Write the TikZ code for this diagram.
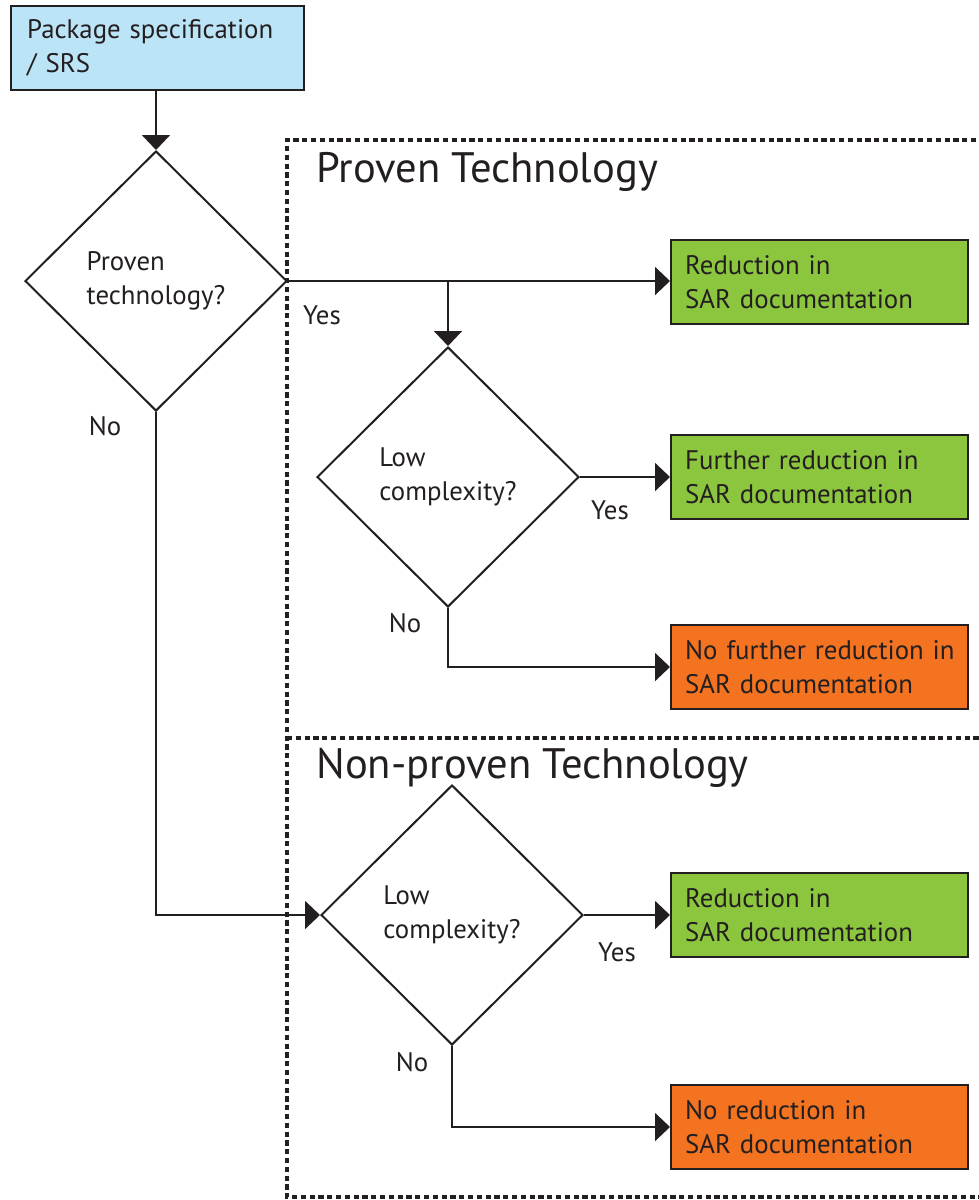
\documentclass[tikz,border=0pt]{standalone}
\usepackage{fontspec}
\setmainfont{PT Sans}
\usetikzlibrary{shapes.geometric, arrows.meta, positioning}
\definecolor{inkline}{HTML}{231F20}
\definecolor{specblue}{HTML}{BCE4F7}
\definecolor{okgreen}{HTML}{8CC63F}
\definecolor{noorange}{HTML}{F37321}
\newcommand{\bodyfont}{\fontsize{13.4}{17}\selectfont}
\newcommand{\zonefont}{\fontsize{21.3}{24}\selectfont}

\tikzset{
  box/.style = {draw=inkline, line width=1.2pt, rectangle, anchor=west,
    minimum width=148.5pt, minimum height=42pt, inner xsep=7pt,
    text width=134.5pt, align=left, font=\bodyfont, text=inkline},
  decision/.style = {draw=inkline, line width=1pt, diamond, fill=white,
    minimum width=131pt, minimum height=130pt, inner sep=0pt,
    align=left, font=\bodyfont, text=inkline},
  flow/.style = {draw=inkline, line width=1pt,
    -{Triangle[length=7.5pt, width=14pt]}},
  zone/.style = {draw=inkline, line width=1.6pt, dash pattern=on 2.6pt off 1.8pt},
  answer/.style = {font=\bodyfont, text=inkline, inner sep=0pt},
  zonetitle/.style = {font=\zonefont, text=inkline, anchor=base west, inner sep=0pt}
}

\begin{document}
\begin{tikzpicture}[x=0.5pt, y=-0.5pt]
    % Parameters
    \pgfmathsetmacro{\boxx}{670}
    \pgfmathsetmacro{\zonex}{287}
    \useasboundingbox (0,0) rectangle (979,1200);
    % Zones
    \draw[zone] (985,140) -- (\zonex,140) -- (\zonex,1197) -- (985,1197);
    \draw[zone] (\zonex,738) -- (985,738);
    \node[zonetitle] (provenzone) at (316,182) {Proven Technology};
    \node[zonetitle] (nonprovenzone) at (316,778) {Non-proven Technology};
    % Start
    \node[box, fill=specblue, minimum width=146.5pt, text width=130.5pt,
      inner xsep=8pt] (spec) at (10,48) {Package specification\\/ SRS};
    % Decisions
    \node[decision] (proven) at (156,281) {Proven\\technology?};
    \node[decision] (lowA) at (448,477) {Low\\complexity?};
    \node[decision] (lowB) at (452,915) {Low\\complexity?};
    % Outcomes
    \node[box, fill=okgreen] (redA) at (\boxx,282) {Reduction in\\SAR documentation};
    \node[box, fill=okgreen] (further) at (\boxx,477) {Further reduction in\\SAR documentation};
    \node[box, fill=noorange] (nofurther) at (\boxx,667) {No~further~reduction~in\\SAR documentation};
    \node[box, fill=okgreen] (redB) at (\boxx,915) {Reduction in\\SAR documentation};
    \node[box, fill=noorange] (noredB) at (\boxx,1127) {No reduction in\\SAR documentation};
    % Connectors
    \coordinate (split) at (lowA.north |- proven.east);
    \draw[flow] (spec.south -| proven.north) -- (proven.north);
    \draw[flow] (proven.east) -- (redA.west |- proven.east);
    \draw[flow] (split) -- (lowA.north);
    \draw[flow] (lowA.east) -- (further.west |- lowA.east);
    \draw[flow] (lowA.south) |- (nofurther.west);
    \draw[flow] (proven.south) |- (lowB.west);
    \draw[flow] (lowB.east) -- (redB.west |- lowB.east);
    \draw[flow] (lowB.south) |- (noredB.west);
    % Answers
    \node[answer] (yesA) at (322,315) {Yes};
    \node[answer] (noA) at (105,426) {No};
    \node[answer] (yesB) at (610,510) {Yes};
    \node[answer] (noB) at (405,623) {No};
    \node[answer] (yesC) at (617,952) {Yes};
    \node[answer] (noC) at (412,1062) {No};
\end{tikzpicture}
\end{document}
